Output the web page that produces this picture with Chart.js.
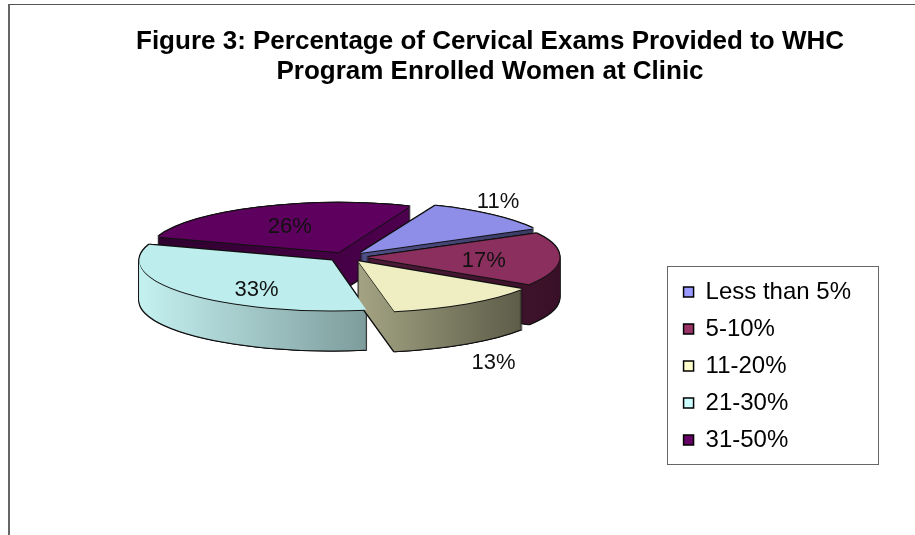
<!DOCTYPE html>
<html>
<head>
<meta charset="utf-8">
<script src="https://cdn.jsdelivr.net/npm/chart.js@4.4.1/dist/chart.umd.min.js"></script>
<style>
  html, body { margin: 0; padding: 0; background: #fff; }
  #wrap { position: relative; width: 915px; height: 535px; overflow: hidden; }
  #frame { position: absolute; left: 8px; top: 4px; right: -10px; bottom: -10px; border-top: 1px solid #555; border-left: 2px solid #666; pointer-events: none; }
  canvas { position: absolute; left: 0; top: 0; }
</style>
</head>
<body>
<div id="wrap">
  <canvas id="chart" width="915" height="535"></canvas>
  <div id="frame"></div>
</div>
<script>
// Data
const categories = ['Less than 5%', '5-10%', '11-20%', '21-30%', '31-50%'];
const shares = [11, 17, 13, 33, 26];
const titleLines = ['Figure 3: Percentage of Cervical Exams Provided to WHC', 'Program Enrolled Women at Clinic'];

// Styles
const FONT = '"Liberation Sans", Arial, sans-serif';
const legendColors = ['#9999ff', '#993366', '#ffffcc', '#ccffff', '#660066'];
const topColors = ['#8e8ee8', '#8b2f5e', '#eeeec2', '#bdeded', '#5e005e'];
const sideColors = [
    ['#50508a', '#3b3b66'],
    ['#4c1a38', '#3a1028'],
    ['#a4a484', '#5e5e4a'],
    ['#c4f0f0', '#7e9c9c'],
    ['#2e002e', '#4e004e']
];
// label distance (fraction of radius), turn (deg) and drop (px) per slice
const labelRadius = [1.27, 0.62, 1.19, 0.71, 0.57];
const labelTurn = [-7, 5, -3, -15, -2];
const labelDrop = [0, 0, 55, 0, 0];
const EDGE = '#111';
const PIE_X = 347;
const PIE_Y = 257;
const SQUASH = 0.26;
const DEPTH = 40;

// 3D look: squash the pie and extrude each slice downwards
const pie3d = {
    id: 'pie3d',
    beforeDatasetsDraw(chart) {
        const ctx = chart.ctx;
        const arcs = chart.getDatasetMeta(0).data;
        const ref = arcs[0];
        const place = (dx, dy) => {
            ctx.translate(PIE_X + dx, PIE_Y + dy);
            ctx.scale(1, SQUASH);
            ctx.translate(-ref.x, -ref.y);
        };
        const paint = (arc, fill, dx, dy) => {
            const fake = Object.create(arc);
            fake.options = Object.assign({}, arc.options, { backgroundColor: fill, borderWidth: 0 });
            ctx.save();
            place(dx, dy);
            fake.draw(ctx);
            ctx.restore();
        };
        const mid = a => (a.startAngle + a.endAngle) / 2;
        const order = arcs.map((a, i) => i)
            .sort((i, j) => Math.sin(mid(arcs[i])) - Math.sin(mid(arcs[j])));

        order.forEach(i => {
            const arc = arcs[i];
            // outline
            for (let k = -1; k <= DEPTH + 1; k++) {
                paint(arc, EDGE, -1, k);
                paint(arc, EDGE, 1, k);
            }
            paint(arc, EDGE, 0, -1);
            paint(arc, EDGE, 0, DEPTH + 1);

            // side wall, light on the left, dark on the right
            let minX = arc.x, maxX = arc.x;
            for (let s = 0; s <= 20; s++) {
                const t = arc.startAngle + (arc.endAngle - arc.startAngle) * s / 20;
                const x = arc.x + Math.cos(t) * arc.outerRadius;
                minX = Math.min(minX, x);
                maxX = Math.max(maxX, x);
            }
            const grad = ctx.createLinearGradient(minX, 0, maxX, 0);
            grad.addColorStop(0, sideColors[i][0]);
            grad.addColorStop(1, sideColors[i][1]);
            for (let k = DEPTH; k >= 1; k--) paint(arc, grad, 0, k);
            paint(arc, EDGE, 0, 1);
        });

        ctx.save();
        place(0, 0);
    },
    afterDatasetsDraw(chart) {
        const ctx = chart.ctx;
        ctx.restore();
        const arcs = chart.getDatasetMeta(0).data;
        const ref = arcs[0];
        ctx.save();
        ctx.font = '22px ' + FONT;
        ctx.fillStyle = '#111';
        ctx.textAlign = 'center';
        ctx.textBaseline = 'middle';
        arcs.forEach((arc, i) => {
            const half = (arc.startAngle + arc.endAngle) / 2;
            const off = (arc.options.offset || 0) / 4;
            const turn = half + labelTurn[i] * Math.PI / 180;
            const r = arc.outerRadius * labelRadius[i];
            const px = arc.x + Math.cos(half) * off + Math.cos(turn) * r;
            const py = arc.y + Math.sin(half) * off + Math.sin(turn) * r;
            const X = PIE_X + (px - ref.x);
            const Y = PIE_Y + (py - ref.y) * SQUASH + labelDrop[i];
            ctx.fillText(shares[i] + '%', X, Y);
        });
        ctx.restore();
    }
};

// Box round the legend
const legendFrame = {
    id: 'legendFrame',
    afterDraw(chart) {
        const boxes = chart.legend.legendHitBoxes;
        if (!boxes || !boxes.length) return;
        const ctx = chart.ctx;
        const left = Math.min(...boxes.map(b => b.left)) - 17;
        const right = Math.max(...boxes.map(b => b.left + b.width)) + 27;
        const top = boxes[0].top - 14;
        const bottom = boxes[boxes.length - 1].top + boxes[boxes.length - 1].height + 12;
        ctx.save();
        ctx.strokeStyle = '#666';
        ctx.lineWidth = 1;
        ctx.strokeRect(Math.round(left) + 0.5, Math.round(top) + 0.5, Math.round(right - left), Math.round(bottom - top));
        ctx.restore();
    }
};

const ctx = document.getElementById('chart').getContext('2d');
new Chart(ctx, {
    type: 'pie',
    data: {
        labels: categories,
        datasets: [{
            data: shares,
            backgroundColor: topColors,
            borderWidth: 0,
            offset: 80
        }]
    },
    options: {
        responsive: false,
        animation: false,
        rotation: 22,
        radius: 190,
        layout: { padding: { left: 119, right: 54, bottom: 70 } },
        plugins: {
            title: {
                display: true,
                text: titleLines,
                color: '#000',
                font: { family: FONT, size: 26, weight: 'bold', lineHeight: 1.15 },
                padding: { top: 27, bottom: 10 }
            },
            legend: {
                position: 'right',
                align: 'end',
                labels: {
                    boxWidth: 10,
                    boxHeight: 10,
                    padding: 13,
                    color: '#000',
                    font: { family: FONT, size: 24 },
                    generateLabels: function(chart) {
                        return chart.data.labels.map((label, i) => ({
                            text: label,
                            fillStyle: legendColors[i],
                            strokeStyle: '#000',
                            lineWidth: 1.5,
                            fontColor: '#000',
                            hidden: false,
                            index: i
                        }));
                    }
                }
            },
            tooltip: { enabled: false }
        }
    },
    plugins: [pie3d, legendFrame]
});
</script>
</body>
</html>
